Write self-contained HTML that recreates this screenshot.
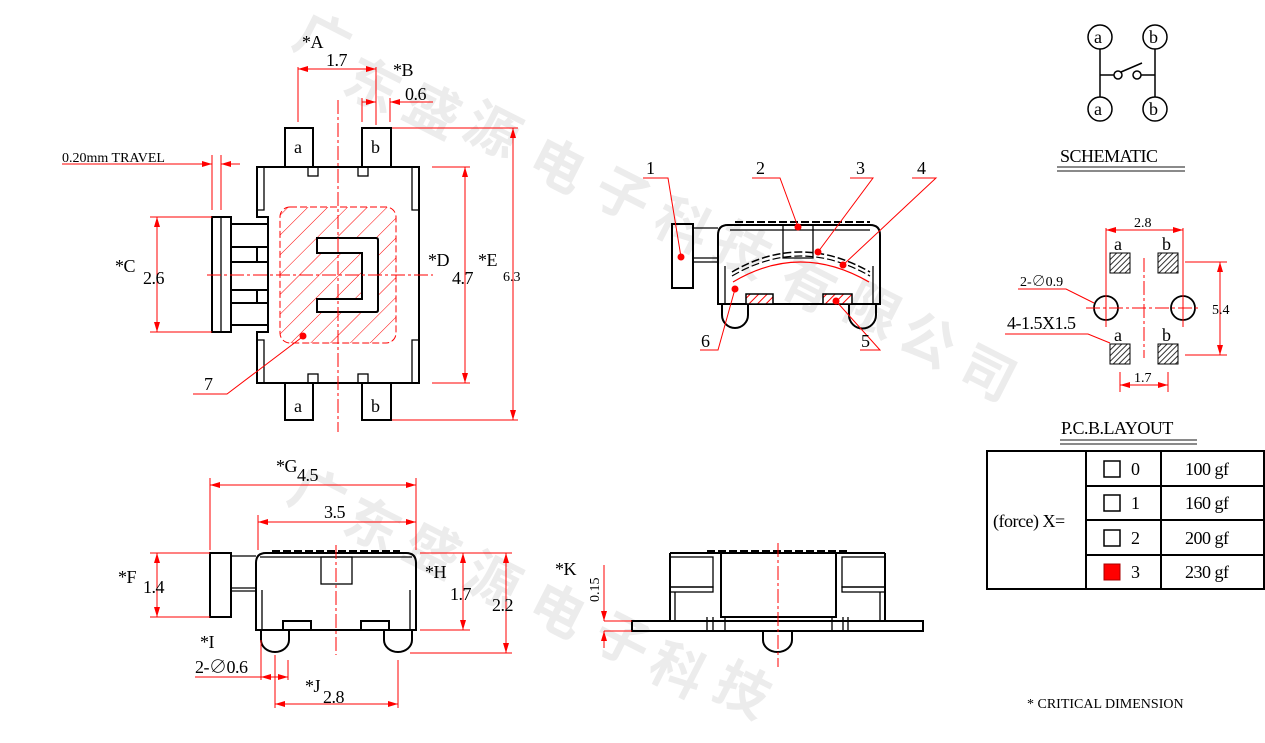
<!DOCTYPE html>
<html><head><meta charset="utf-8"><style>
html,body{margin:0;padding:0;background:#fff;width:1265px;height:743px;overflow:hidden;}
svg{display:block;font-family:"Liberation Serif","Noto Serif CJK SC",serif;}
.k{stroke:#000;stroke-width:2;fill:none;}
.k1{stroke:#000;stroke-width:1.3;fill:none;}
.r{stroke:#f00;stroke-width:1;fill:none;}
.cl{stroke:#f00;stroke-width:1;fill:none;stroke-dasharray:14 3 3 3;}
.t{font-size:18px;fill:#000;letter-spacing:-0.5px;}
.ts{font-size:14px;fill:#000;}
.wm{font-size:54px;fill:#ececec;font-family:"Noto Sans CJK SC",sans-serif;font-weight:bold;}
</style></head><body>
<svg width="1265" height="743" viewBox="0 0 1265 743" xmlns="http://www.w3.org/2000/svg">
<defs>
<marker id="a" viewBox="0 0 10 6" refX="10" refY="3" markerWidth="10" markerHeight="6" orient="auto-start-reverse" markerUnits="userSpaceOnUse"><path d="M0,0L10,3L0,6Z" fill="#f00"/></marker>
<pattern id="h" width="6" height="6" patternUnits="userSpaceOnUse" patternTransform="rotate(45)"><rect width="6" height="6" fill="#fff"/><line x1="0" y1="0" x2="0" y2="6" stroke="#f00" stroke-width="2"/></pattern>
<pattern id="hk" width="4" height="4" patternUnits="userSpaceOnUse" patternTransform="rotate(45)"><rect width="4" height="4" fill="#fff"/><line x1="0" y1="0" x2="0" y2="4" stroke="#333" stroke-width="2"/></pattern>
<pattern id="hb" width="14" height="14" patternUnits="userSpaceOnUse" patternTransform="rotate(45)"><line x1="0" y1="0" x2="0" y2="14" stroke="#f00" stroke-width="1"/></pattern>
</defs>

<g class="wm">
<text transform="translate(290,45) rotate(27)">广</text>
<text transform="translate(340,90) rotate(27)">东</text>
<text transform="translate(400,115) rotate(27)">盛</text>
<text transform="translate(460,135) rotate(27)">源</text>
<text transform="translate(525,170) rotate(27)">电</text>
<text transform="translate(590,200) rotate(27)">子</text>
<text transform="translate(650,230) rotate(27)">科</text>
<text transform="translate(710,255) rotate(27)">技</text>
<text transform="translate(775,290) rotate(27)">有</text>
<text transform="translate(840,315) rotate(27)">限</text>
<text transform="translate(895,345) rotate(27)">公</text>
<text transform="translate(955,378) rotate(27)">司</text>
<text transform="translate(285,500) rotate(27)">广</text>
<text transform="translate(340,530) rotate(27)">东</text>
<text transform="translate(400,555) rotate(27)">盛</text>
<text transform="translate(460,585) rotate(27)">源</text>
<text transform="translate(525,615) rotate(27)">电</text>
<text transform="translate(590,645) rotate(27)">子</text>
<text transform="translate(645,675) rotate(27)">科</text>
<text transform="translate(710,695) rotate(27)">技</text>
</g>

<rect x="280" y="207" width="116" height="136" rx="10" fill="url(#hb)" stroke="#f00" stroke-dasharray="7 3"/>
<path class="k" d="M257,167H419V383H257V332H268V217H257Z"/>
<path class="k1" d="M264,167V210H257M264,383V340H257M412,167V210H419M412,383V340H419"/>
<rect class="k" x="285" y="128" width="28" height="39"/><rect class="k" x="362" y="128" width="29" height="39"/>
<rect class="k" x="285" y="383" width="28" height="37"/><rect class="k" x="362" y="383" width="29" height="37"/>
<rect class="k1" x="308" y="167" width="10" height="9"/><rect class="k1" x="358" y="167" width="10" height="9"/>
<rect class="k1" x="308" y="374" width="10" height="9"/><rect class="k1" x="358" y="374" width="10" height="9"/>
<text class="t" x="294" y="153">a</text><text class="t" x="371" y="153">b</text>
<text class="t" x="294" y="412">a</text><text class="t" x="371" y="412">b</text>
<rect class="k" x="212" y="217" width="19" height="115"/><line class="k1" x1="221" y1="217" x2="221" y2="332"/>
<path class="k" d="M231,224H268M231,325H268M231,247H268M231,262H268M231,290H268M231,303H268M257,247V262M257,290V303"/>
<path d="M317,238H376Q378,238 378,240V310Q378,312 376,312H317V299H362V253H317Z" fill="#fff" stroke="#000" stroke-width="2"/>
<line class="cl" x1="338" y1="100" x2="338" y2="432"/>
<line class="cl" x1="207" y1="275" x2="433" y2="275"/>
<circle cx="303" cy="336" r="3.5" fill="#f00"/>
<path class="r" d="M301,338L227,394H193"/>
<text class="t" x="204" y="390">7</text>
<path class="r" d="M392,128H518M432,167H470M432,383H470M392,420H518"/>
<line class="r" x1="513" y1="128" x2="513" y2="420" marker-start="url(#a)" marker-end="url(#a)"/>
<line class="r" x1="465" y1="167" x2="465" y2="383" marker-start="url(#a)" marker-end="url(#a)"/>
<text class="t" x="428" y="266">*D</text><text class="t" x="452" y="284">4.7</text>
<text class="t" x="478" y="266">*E</text><text class="ts" x="503" y="281">6.3</text>
<path class="r" d="M150,217H212M150,332H212"/>
<line class="r" x1="157" y1="217" x2="157" y2="332" marker-start="url(#a)" marker-end="url(#a)"/>
<text class="t" x="115" y="272">*C</text><text class="t" x="143" y="284">2.6</text>
<path class="r" d="M298,67V122M376,67V125M362,98V122M390,98V122"/>
<line class="r" x1="298" y1="69" x2="376" y2="69" marker-start="url(#a)" marker-end="url(#a)"/>
<text class="t" x="302" y="48">*A</text><text class="t" x="326" y="66">1.7</text>
<line class="r" x1="362" y1="102" x2="376" y2="102" marker-end="url(#a)"/>
<line class="r" x1="404" y1="102" x2="390" y2="102" marker-end="url(#a)"/>
<line class="r" x1="390" y1="102" x2="433" y2="102"/>
<text class="t" x="393" y="76">*B</text><text class="t" x="405" y="100">0.6</text>
<text class="ts" x="62" y="162">0.20mm TRAVEL</text>
<line class="r" x1="62" y1="164" x2="212" y2="164" marker-end="url(#a)"/>
<line class="r" x1="240" y1="164" x2="221" y2="164" marker-end="url(#a)"/>
<path class="r" d="M212,155V210M221,155V210"/>

<path class="k" d="M718,304V235Q718,225 728,225H870Q880,225 880,235V304Z"/>
<line x1="735" y1="222" x2="870" y2="222" stroke="#000" stroke-width="2" stroke-dasharray="8 3"/>
<rect class="k" x="672" y="224" width="21" height="64"/>
<path class="k1" d="M693,228H718M693,258H718M693,262H718"/>
<path class="k1" d="M783,225V258H813V225M730,230H870"/>
<path d="M732,272Q800,232 870,272" stroke="#000" stroke-width="1.5" fill="none" stroke-dasharray="8 3"/>
<path d="M732,276Q800,236 870,276" stroke="#000" stroke-width="1.2" fill="none" stroke-dasharray="8 3"/>
<path d="M733,282Q800,242 869,282" stroke="#f00" stroke-width="1.2" fill="none"/>
<path class="k1" d="M725,266V304M873,266V304"/>
<path class="k" d="M722,304V315A13,13 0 0 0 748,315V304M849,304V315A13,13 0 0 0 876,315V304"/>
<rect x="746" y="294" width="27" height="10" fill="url(#h)" stroke="#000" stroke-width="1.5"/>
<rect x="823" y="294" width="29" height="10" fill="url(#h)" stroke="#000" stroke-width="1.5"/>
<g fill="#f00"><circle cx="681" cy="257" r="3.5"/><circle cx="798" cy="227" r="3.5"/><circle cx="818" cy="252" r="3.5"/><circle cx="843" cy="265" r="3.5"/><circle cx="735" cy="289" r="3.5"/><circle cx="836" cy="301" r="3.5"/></g>
<path class="r" d="M643,178H668L681,257M752,178H780L798,227M850,178H873L818,252M912,178H936L843,265M700,350H718L735,289M860,350H880L836,301"/>
<text class="t" x="646" y="174">1</text><text class="t" x="756" y="174">2</text><text class="t" x="856" y="174">3</text><text class="t" x="917" y="174">4</text>
<text class="t" x="701" y="347">6</text><text class="t" x="861" y="347">5</text>

<path class="k" d="M256,630V563Q256,553 266,553H406Q416,553 416,563V630Z"/>
<line x1="272" y1="551" x2="400" y2="551" stroke="#000" stroke-width="2" stroke-dasharray="8 3"/>
<line class="k1" x1="260" y1="557" x2="412" y2="557"/>
<rect class="k" x="210" y="553" width="21" height="64"/>
<path class="k1" d="M231,556H256M231,588H256M231,591H256"/>
<rect class="k1" x="321" y="557" width="31" height="27"/>
<path class="k1" d="M262,590V630M410,590V630"/>
<rect class="k" x="283" y="621" width="28" height="9"/><rect class="k" x="361" y="621" width="28" height="9"/>
<path class="k" d="M261,630V640A14,12 0 0 0 289,640V630M384,630V640A14,12 0 0 0 412,640V630"/>
<line class="cl" x1="336" y1="545" x2="336" y2="655"/>
<path class="r" d="M210,478V550M416,478V550M258,515V550"/>
<line class="r" x1="210" y1="485" x2="416" y2="485" marker-start="url(#a)" marker-end="url(#a)"/>
<line class="r" x1="258" y1="522" x2="416" y2="522" marker-start="url(#a)" marker-end="url(#a)"/>
<text class="t" x="276" y="472">*G</text><text class="t" x="297" y="481">4.5</text>
<text class="t" x="324" y="518">3.5</text>
<path class="r" d="M150,553H210M150,617H210"/>
<line class="r" x1="157" y1="553" x2="157" y2="617" marker-start="url(#a)" marker-end="url(#a)"/>
<text class="t" x="118" y="583">*F</text><text class="t" x="143" y="593">1.4</text>
<path class="r" d="M420,553H512M420,630H470M410,653H512"/>
<line class="r" x1="463" y1="553" x2="463" y2="630" marker-start="url(#a)" marker-end="url(#a)"/>
<line class="r" x1="506" y1="553" x2="506" y2="653" marker-start="url(#a)" marker-end="url(#a)"/>
<text class="t" x="425" y="578">*H</text><text class="t" x="450" y="600">1.7</text><text class="t" x="492" y="611">2.2</text>
<path class="r" d="M261,640V680M288,660V680M275,655V708M398,660V708"/>
<line class="r" x1="195" y1="677" x2="261" y2="677"/>
<line class="r" x1="261" y1="677" x2="288" y2="677" marker-start="url(#a)" marker-end="url(#a)"/>
<text class="t" x="200" y="648">*I</text><text class="t" x="195" y="673">2-∅0.6</text>
<line class="r" x1="275" y1="704" x2="398" y2="704" marker-start="url(#a)" marker-end="url(#a)"/>
<text class="t" x="305" y="692">*J</text><text class="t" x="323" y="703">2.8</text>

<line x1="707" y1="551" x2="848" y2="551" stroke="#000" stroke-width="2" stroke-dasharray="8 3"/>
<path class="k" d="M670,553H885M670,553V621M885,553V621"/>
<rect class="k" x="721" y="553" width="115" height="64"/>
<rect class="k1" x="670" y="557" width="43" height="30"/><rect class="k1" x="670" y="587" width="43" height="5"/>
<rect class="k1" x="842" y="557" width="43" height="30"/><rect class="k1" x="842" y="587" width="43" height="5"/>
<path class="k1" d="M675,592V621M880,592V621M707,617V631M713,617V631M843,617V631M848,617V631M725,617V631M832,617V631"/>
<rect class="k" x="632" y="621" width="291" height="10"/>
<path class="k" d="M763,631V640A14.5,12 0 0 0 792,640V631"/>
<line class="cl" x1="778" y1="543" x2="778" y2="667"/>
<path class="r" d="M604,565V621M604,631V648M604,621H632M604,631H632"/>
<line class="r" x1="604" y1="605" x2="604" y2="621" marker-end="url(#a)"/>
<line class="r" x1="604" y1="648" x2="604" y2="631" marker-end="url(#a)"/>
<text class="t" x="555" y="575">*K</text>
<text class="ts" transform="translate(599,602) rotate(-90)">0.15</text>

<g stroke="#000" stroke-width="1.5" fill="none">
<circle cx="1100" cy="37" r="12"/><circle cx="1155" cy="37" r="12"/>
<circle cx="1100" cy="109" r="12"/><circle cx="1155" cy="109" r="12"/>
<path d="M1100,49V97M1155,49V97M1100,75H1114M1141,75H1155M1121,72L1142,63"/>
<circle cx="1118" cy="75" r="4"/><circle cx="1137" cy="75" r="4"/>
</g>
<text class="t" x="1094" y="43">a</text><text class="t" x="1149" y="43">b</text>
<text class="t" x="1094" y="115">a</text><text class="t" x="1149" y="115">b</text>
<text class="t" x="1060" y="162">SCHEMATIC</text>
<path d="M1057,167H1185M1057,171H1185" stroke="#444" stroke-width="1.3"/>

<rect x="1110" y="253" width="20" height="20" fill="url(#hk)" stroke="#000"/>
<rect x="1158" y="253" width="20" height="20" fill="url(#hk)" stroke="#000"/>
<rect x="1110" y="344" width="20" height="20" fill="url(#hk)" stroke="#000"/>
<rect x="1158" y="344" width="20" height="20" fill="url(#hk)" stroke="#000"/>
<text class="t" x="1114" y="250">a</text><text class="t" x="1162" y="250">b</text>
<text class="t" x="1114" y="341">a</text><text class="t" x="1162" y="341">b</text>
<circle cx="1106" cy="308" r="12" fill="none" stroke="#000" stroke-width="1.8"/>
<circle cx="1183" cy="308" r="12" fill="none" stroke="#000" stroke-width="1.8"/>
<line class="cl" x1="1086" y1="308" x2="1200" y2="308"/>
<line class="cl" x1="1144" y1="258" x2="1144" y2="358"/>
<path class="r" d="M1106,228V327M1183,228V327M1185,262H1227M1185,355H1227M1120,372V392M1168,372V392"/>
<line class="r" x1="1106" y1="230" x2="1183" y2="230" marker-start="url(#a)" marker-end="url(#a)"/>
<line class="r" x1="1220" y1="262" x2="1220" y2="355" marker-start="url(#a)" marker-end="url(#a)"/>
<line class="r" x1="1120" y1="385" x2="1168" y2="385" marker-start="url(#a)" marker-end="url(#a)"/>
<text class="ts" x="1134" y="227">2.8</text><text class="ts" x="1212" y="314">5.4</text><text class="ts" x="1134" y="382">1.7</text>
<text class="ts" x="1020" y="286">2-∅0.9</text>
<path class="r" d="M1018,289H1066L1094,303"/>
<text class="t" x="1007" y="329">4-1.5X1.5</text>
<path class="r" d="M1005,334H1088L1110,343"/>

<text class="t" x="1061" y="434">P.C.B.LAYOUT</text>
<path d="M1060,440H1197M1060,444H1197" stroke="#444" stroke-width="1.3"/>
<g stroke="#000" stroke-width="2" fill="none">
<rect x="987" y="451" width="277" height="138"/>
<path d="M1086,451V589M1161,451V589M1086,486H1264M1086,520H1264M1086,555H1264"/>
<rect x="1104" y="461" width="16" height="16" stroke-width="1.5"/>
<rect x="1104" y="495" width="16" height="16" stroke-width="1.5"/>
<rect x="1104" y="530" width="16" height="16" stroke-width="1.5"/>
</g>
<rect x="1104" y="564" width="16" height="16" fill="#f00" stroke="#a00"/>
<text class="t" x="993" y="527">(force) X=</text>
<text class="t" x="1131" y="475">0</text><text class="t" x="1131" y="509">1</text><text class="t" x="1131" y="544">2</text><text class="t" x="1131" y="578">3</text>
<text class="t" x="1185" y="475">100 gf</text><text class="t" x="1185" y="509">160 gf</text><text class="t" x="1185" y="544">200 gf</text><text class="t" x="1185" y="578">230 gf</text>
<text class="ts" x="1027" y="708">* CRITICAL  DIMENSION</text>
</svg>
</body></html>
